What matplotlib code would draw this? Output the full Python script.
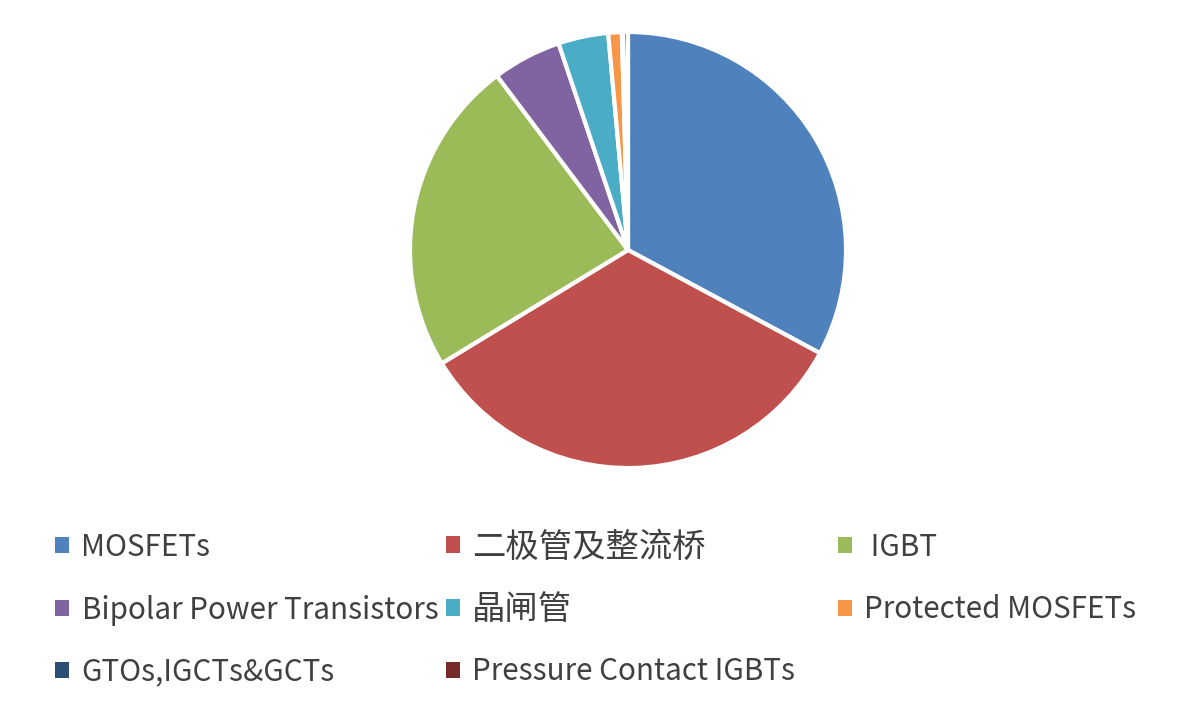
import matplotlib
matplotlib.use("Agg")
import matplotlib.pyplot as plt
from matplotlib.patches import Patch

plt.rcParams['font.family'] = ['Noto Sans CJK SC', 'DejaVu Sans']

categories = ["MOSFETs", "二极管及整流桥", "IGBT", "Bipolar Power Transistors",
              "晶闸管", "Protected MOSFETs", "GTOs,IGCTs&GCTs", "Pressure Contact IGBTs"]
values = [32.8, 33.4, 23.4, 5.1, 3.7, 1.0, 0.1, 0.35]
colors = ["#4F81BD", "#C0504D", "#9BBB59", "#8064A2",
          "#4BACC6", "#F79646", "#2C4D75", "#772C2A"]

W, H = 1194, 707
fig = plt.figure(figsize=(W / 100, H / 100), dpi=100)
cx, cy, r = 628, 250, 218
ax = fig.add_axes([(cx - r) / W, (H - cy - r) / H, 2 * r / W, 2 * r / H])
ax.pie(values, colors=colors, startangle=90, counterclock=False, radius=1,
       wedgeprops=dict(edgecolor="white", linewidth=3))
ax.set_xlim(-1, 1)
ax.set_ylim(-1, 1)
ax.set_aspect("equal")
ax.axis("off")

# legend laid out row-wise in three columns
col_x = [55, 446, 838]
row_y = [547, 610, 672]
for i, (lab, col) in enumerate(zip(categories, colors)):
    row, c = divmod(i, 3)
    cjk = any(ord(ch) > 0x2E80 for ch in lab)
    fs = 24 if cjk else 21.3
    px = fs * 100 / 72
    text = (" " if lab == "IGBT" else "") + lab
    fig.legend([Patch(facecolor=col, edgecolor="none")], [text],
               loc="center left",
               bbox_to_anchor=(col_x[c] / W, 1 - row_y[row] / H),
               frameon=False, fontsize=fs, labelcolor="#404040",
               handlelength=14 / px, handleheight=14 / px,
               handletextpad=(12.5 if not cjk else 12) / px,
               borderpad=0, borderaxespad=0)

fig.savefig("out.png", dpi=100, facecolor="white")
